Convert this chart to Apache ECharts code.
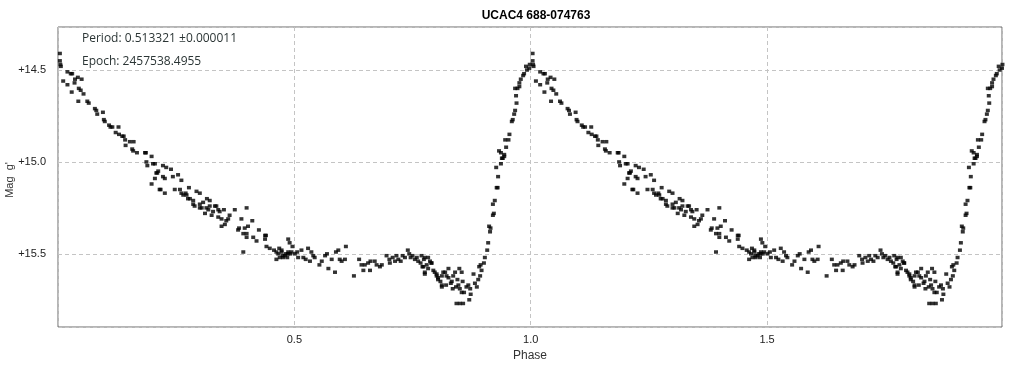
<!DOCTYPE html>
<html>
<head>
<meta charset="utf-8">
<script src="https://cdn.jsdelivr.net/npm/echarts@6/dist/echarts.min.js"></script>
<style>html,body{margin:0;padding:0;background:#fff}#c{width:1011px;height:366px}</style>
</head>
<body>
<div id="c"></div>
<script>
const chartTitle = "UCAC4 688-074763";
const periodText = "Period: 0.513321 ±0.000011";
const epochText = "Epoch: 2457538.4955";
const xName = "Phase";
const yName = "Mag  g'";
const xRange = [0, 1.997];
const yRange = [14.266, 15.898];

// phase-folded observations, one cycle (phase, magnitude)
const descending = [
[0.004,14.41],[0.004,14.45],[0.005,14.47],[0.006,14.48],[0.011,14.56],[0.020,14.51],[0.020,14.58],[0.027,14.52],[0.030,14.52],[0.029,14.62],
[0.035,14.57],[0.036,14.55],[0.042,14.54],[0.044,14.60],[0.048,14.61],[0.050,14.55],[0.054,14.63],[0.043,14.67],[0.062,14.67],[0.065,14.68],
[0.078,14.71],[0.081,14.72],[0.083,14.74],[0.095,14.73],[0.097,14.77],[0.099,14.78],[0.108,14.80],[0.111,14.81],[0.115,14.81],[0.122,14.84],
[0.128,14.81],[0.129,14.85],[0.136,14.86],[0.139,14.86],[0.142,14.88],[0.143,14.91],[0.152,14.89],[0.160,14.89],[0.157,14.93],[0.159,14.94],
[0.167,14.95],[0.184,14.95],[0.186,14.95],[0.198,14.97],[0.187,15.00],[0.189,15.02],[0.201,15.01],[0.205,15.01],[0.222,15.02],[0.229,15.03],
[0.239,15.04],[0.208,15.06],[0.212,15.05],[0.210,15.06],[0.222,15.08],[0.226,15.09],[0.243,15.08],[0.254,15.07],[0.261,15.10],[0.205,15.09],
[0.198,15.12],[0.215,15.15],[0.217,15.15],[0.226,15.17],[0.247,15.15],[0.258,15.15],[0.261,15.17],[0.265,15.18],[0.270,15.17],[0.277,15.14],
[0.272,15.18],[0.275,15.20],[0.279,15.20],[0.293,15.16],[0.300,15.17],[0.286,15.21],[0.286,15.23],[0.289,15.24],[0.300,15.23],[0.300,15.25],
[0.307,15.22],[0.315,15.20],[0.321,15.21],[0.304,15.25],[0.314,15.25],[0.318,15.26],[0.321,15.24],[0.332,15.24],[0.335,15.24],[0.339,15.26],
[0.328,15.27],[0.342,15.27],[0.351,15.26],[0.311,15.28],[0.325,15.29],[0.339,15.30],[0.346,15.31],[0.360,15.31],[0.363,15.29],[0.356,15.32],
[0.346,15.35],[0.353,15.34],[0.374,15.26],[0.399,15.25],[0.388,15.31],[0.411,15.32],[0.402,15.35],[0.383,15.36],[0.381,15.37],[0.395,15.36],
[0.425,15.37],[0.392,15.39],[0.399,15.39],[0.399,15.41],[0.413,15.41],[0.420,15.43],[0.438,15.40],[0.440,15.40],[0.438,15.42],[0.392,15.49],
[0.441,15.46],[0.448,15.47],[0.457,15.48],[0.462,15.49],[0.468,15.47],[0.473,15.49],[0.466,15.50],[0.469,15.52],[0.462,15.53],[0.480,15.51],
[0.486,15.50],[0.476,15.52],[0.485,15.52],[0.491,15.50]
];
const plateau = [
[0.487,15.42],[0.490,15.44],[0.496,15.46],[0.473,15.48],[0.475,15.51],[0.482,15.50],[0.487,15.49],[0.494,15.49],[0.501,15.50],[0.506,15.49],
[0.508,15.52],[0.515,15.48],[0.519,15.52],[0.524,15.53],[0.529,15.47],[0.533,15.54],[0.536,15.49],[0.540,15.51],[0.543,15.52],[0.553,15.56],
[0.558,15.54],[0.565,15.51],[0.569,15.50],[0.572,15.58],[0.579,15.53],[0.586,15.60],[0.588,15.49],[0.593,15.48],[0.596,15.53],[0.600,15.54],
[0.607,15.53],[0.609,15.46],[0.626,15.62],[0.637,15.53],[0.642,15.56],[0.646,15.59],[0.649,15.56],[0.656,15.55],[0.660,15.59],[0.661,15.54],
[0.670,15.54],[0.674,15.56],[0.681,15.57],[0.685,15.56],[0.695,15.51],[0.701,15.53],[0.702,15.55],[0.708,15.52],[0.713,15.54],[0.716,15.51],
[0.720,15.53],[0.725,15.54],[0.729,15.51],[0.734,15.52],[0.740,15.48],[0.743,15.50],[0.746,15.52],[0.750,15.51],[0.755,15.53],[0.759,15.52],
[0.762,15.54],[0.767,15.55],[0.771,15.57],[0.774,15.53],[0.780,15.56],[0.783,15.58],[0.776,15.60],[0.790,15.55],[0.794,15.59],[0.797,15.60],
[0.801,15.61],[0.804,15.64]
];
const minimum = [
[0.769,15.51],[0.776,15.52],[0.783,15.52],[0.787,15.54],[0.790,15.55],[0.773,15.57],[0.776,15.61],[0.801,15.62],[0.804,15.63],[0.812,15.62],
[0.815,15.60],[0.819,15.60],[0.822,15.62],[0.826,15.58],[0.809,15.65],[0.812,15.67],[0.812,15.68],[0.821,15.67],[0.826,15.63],[0.831,15.66],
[0.833,15.65],[0.836,15.62],[0.840,15.60],[0.835,15.69],[0.842,15.68],[0.847,15.67],[0.845,15.64],[0.849,15.58],[0.854,15.60],[0.850,15.69],
[0.854,15.71],[0.859,15.71],[0.856,15.65],[0.864,15.68],[0.868,15.67],[0.872,15.69],[0.873,15.72],[0.870,15.75],[0.843,15.77],[0.850,15.77],
[0.857,15.77],[0.879,15.61],[0.882,15.66],[0.886,15.68],[0.889,15.64],[0.893,15.62],[0.891,15.57],[0.896,15.59],[0.894,15.56],[0.901,15.55],
[0.903,15.52]
];
const rising = [
[0.908,15.48],[0.910,15.44],[0.914,15.38],[0.915,15.36],[0.912,15.35],[0.920,15.29],[0.922,15.28],[0.920,15.23],[0.924,15.21],[0.928,15.14],
[0.930,15.14],[0.931,15.08],[0.927,15.03],[0.937,15.01],[0.939,14.98],[0.937,14.95],[0.944,14.97],[0.933,14.94],[0.941,14.98],[0.944,14.96],
[0.948,14.92],[0.946,14.88],[0.953,14.88],[0.955,14.85],[0.960,14.78],[0.962,14.77],[0.965,14.74],[0.967,14.72],[0.970,14.68],[0.969,14.64],
[0.967,14.60],[0.972,14.60],[0.976,14.59],[0.976,14.57],[0.979,14.55],[0.984,14.53],[0.986,14.52],[0.992,14.50],[0.990,14.48],[0.997,14.49],
[0.998,14.47]
];

const oneCycle = descending.concat(plateau, minimum, rising);
const points = oneCycle.concat(oneCycle.map(p => [p[0] + 1, p[1]]));

const chart = echarts.init(document.getElementById('c'), null, {renderer: 'canvas'});
const isHalf = v => Math.abs(v * 2 - Math.round(v * 2)) < 1e-6;
chart.setOption({
  animation: false,
  backgroundColor: '#ffffff',
  title: {
    text: chartTitle, left: 531, top: 5, textAlign: 'center',
    textStyle: {fontFamily: 'Liberation Sans, Arial', fontSize: 12, fontWeight: 'bold', color: '#000'}
  },
  graphic: [
    {type: 'text', left: 82, top: 33, style: {text: periodText, font: '12px "Open Sans"', fill: '#2b3535'}},
    {type: 'text', left: 82, top: 56, style: {text: epochText, font: '12px "Open Sans"', fill: '#2b3535'}},
    {type: 'text', x: 10, y: 180, rotation: Math.PI / 2,
      style: {text: yName, font: '11px "Liberation Sans", Arial', fill: '#333', align: 'center', verticalAlign: 'middle'}}
  ],
  grid: {left: 58, right: 9, top: 27, bottom: 39, show: true, borderColor: '#6a6a6a', borderWidth: 1,
    containLabel: false, outerBoundsMode: 'none'},
  xAxis: {
    type: 'value', min: xRange[0], max: xRange[1], interval: 0.5,
    name: xName, nameLocation: 'middle', nameGap: 22,
    nameTextStyle: {fontFamily: 'Liberation Sans, Arial', fontSize: 12, color: '#333'},
    axisLine: {show: false}, axisTick: {show: false},
    axisLabel: {margin: 7, fontFamily: 'Liberation Sans, Arial', fontSize: 11, color: '#222',
      formatter: v => (v > 0.01 && v < 1.99 && isHalf(v)) ? v.toFixed(1) : ''},
    splitLine: {show: true, lineStyle: {color: '#c4c4c4', type: [4, 3], width: 1}}
  },
  yAxis: {
    type: 'value', inverse: true, min: yRange[0], max: yRange[1], splitNumber: 3,
    axisLine: {show: false}, axisTick: {show: false},
    axisLabel: {margin: 12, fontFamily: 'Liberation Sans, Arial', fontSize: 11, color: '#222',
      formatter: v => isHalf(v) ? '+' + v.toFixed(1) : ''},
    splitLine: {show: true, lineStyle: {color: '#c4c4c4', type: [4, 3], width: 1}}
  },
  series: [{
    type: 'scatter', data: points, symbol: 'rect', symbolSize: [4, 3.5],
    itemStyle: {color: '#000'}, clip: false
  }]
});
</script>
</body>
</html>
